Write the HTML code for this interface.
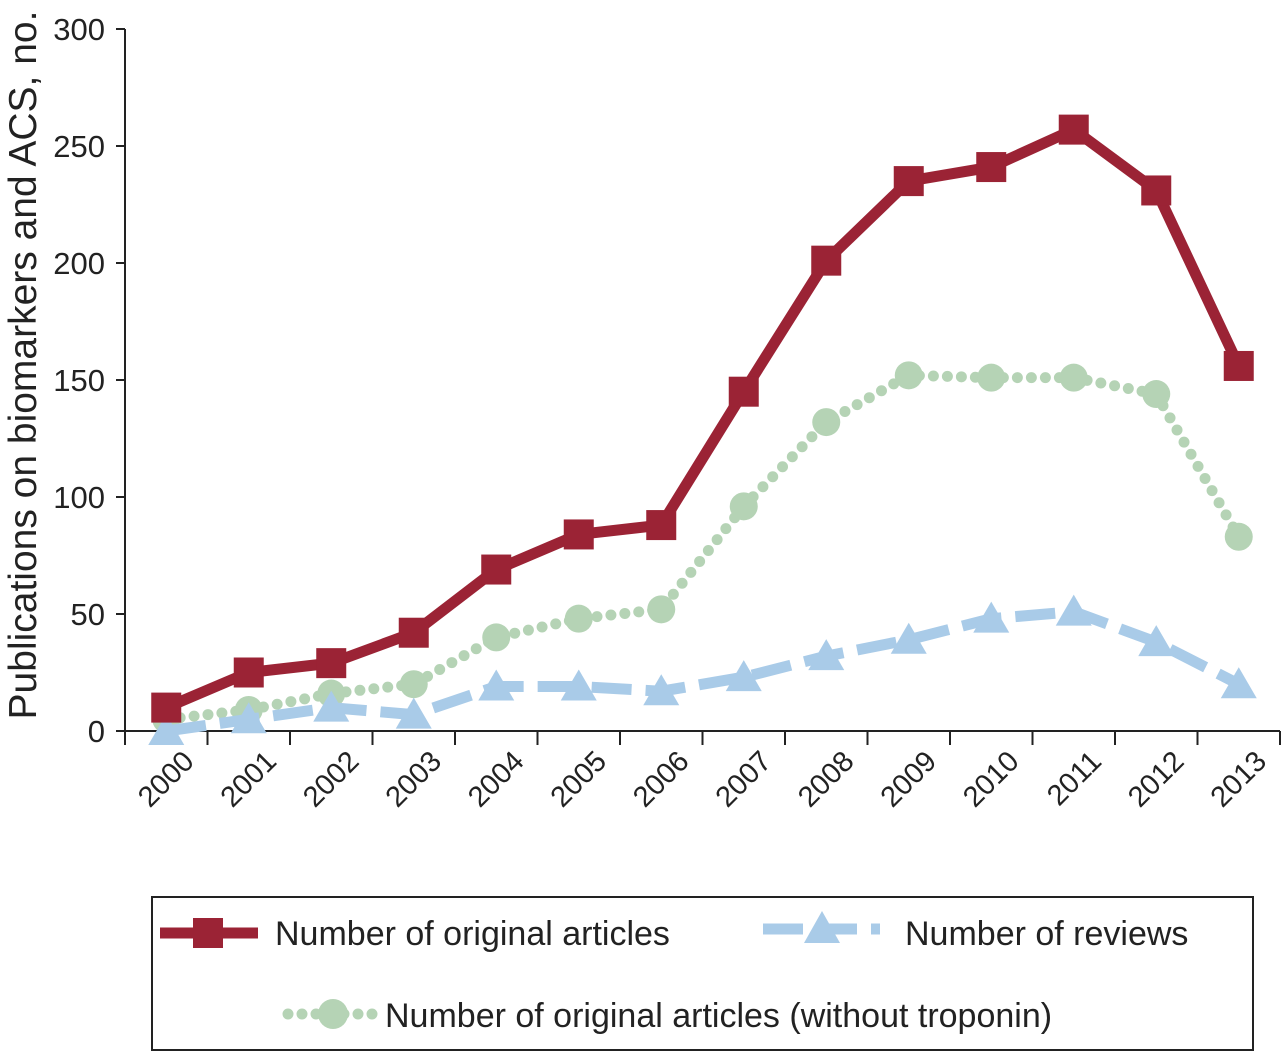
<!DOCTYPE html>
<html><head><meta charset="utf-8"><style>
html,body{margin:0;padding:0;background:#fff;}
svg text{font-family:"Liberation Sans",Arial,sans-serif;fill:#222;}
</style></head><body>
<svg width="1282" height="1054" viewBox="0 0 1282 1054">
<g id="axes"></g><g id="series"></g>
<g>
<rect x="152" y="897" width="1101" height="153" fill="none" stroke="#222" stroke-width="2"/>
<g>
<line x1="160" y1="933" x2="258" y2="933" stroke="#9b2335" stroke-width="11"/>
<rect x="193" y="918" width="30" height="30" fill="#9b2335"/>
<text x="275" y="945" font-size="34">Number of original articles</text></g>
<g>
<line x1="763" y1="929" x2="880" y2="929" stroke="#a9cbe8" stroke-width="11" stroke-dasharray="40,14"/>
<polygon points="822,911 840,943 804,943" fill="#a9cbe8"/>
<text x="905" y="945" font-size="34">Number of reviews</text></g>
<g>
<line x1="288" y1="1014" x2="378" y2="1014" stroke="#b5d3b5" stroke-width="11" stroke-linecap="round" stroke-dasharray="0,14"/>
<circle cx="333" cy="1014" r="15" fill="#b5d3b5"/>
<text x="385" y="1027" font-size="34">Number of original articles (without troponin)</text></g>
</g>
</svg>
<script>
const years=["2000","2001","2002","2003","2004","2005","2006","2007","2008","2009","2010","2011","2012","2013"];
const original=[10,25,29,42,69,84,88,145,201,235,241,257,231,156];
const withoutTroponin=[5,9,16,20,40,48,52,96,132,152,151,151,144,83];
const reviews=[0,5,10,7,19,19,17,23,32,39,48,51,38,20];
const yTicks=[0,50,100,150,200,250,300];
const NS="http://www.w3.org/2000/svg";
const x0=125,x1=1280,y0=731,y1=29;
const step=(x1-x0)/years.length;
const xs=i=>x0+step*(i+0.5);
const ys=v=>y0-(v/300)*(y0-y1);
function mk(p,t,a){const e=document.createElementNS(NS,t);for(const k in a)e.setAttribute(k,a[k]);p.appendChild(e);return e;}
const ax=document.getElementById('axes');
let e=mk(ax,'line',{x1:x0,y1:y1,x2:x0,y2:y0,stroke:'#222','stroke-width':2});


e=mk(ax,'line',{x1:x0,y1:y0,x2:x1,y2:y0,stroke:'#222','stroke-width':2});


yTicks.forEach(v=>{
 mk(ax,'line',{x1:x0-9,y1:ys(v),x2:x0,y2:ys(v),stroke:'#222','stroke-width':2});
 const t=mk(ax,'text',{x:x0-20,y:ys(v)+11,'font-size':31,'text-anchor':'end'});t.textContent=v;
 
 
});
for(let i=0;i<=years.length;i++){mk(ax,'line',{x1:x0+step*i,y1:y0,x2:x0+step*i,y2:y0+14,stroke:'#222','stroke-width':2});}
years.forEach((y,i)=>{
 const cx=x0+step*(i+1)-12,cy=y0+32;
 const t=mk(ax,'text',{x:cx,y:cy,'font-size':29,'text-anchor':'end',transform:`rotate(-45 ${cx} ${cy})`});t.textContent=y;
 
 
});
const tt=mk(ax,'text',{x:36,y:365,'font-size':39,'text-anchor':'middle',transform:'rotate(-90 36 365)'});
tt.textContent='Publications on biomarkers and ACS, no.';


const se=document.getElementById('series');
const pts=a=>a.map((v,i)=>xs(i)+','+ys(v)).join(' ');
let g=mk(se,'g',{});


mk(g,'polyline',{points:pts(withoutTroponin),fill:'none',stroke:'#b5d3b5','stroke-width':11,'stroke-linecap':'round','stroke-dasharray':'0,14'});
withoutTroponin.forEach((v,i)=>{const c=mk(g,'circle',{cx:xs(i),cy:ys(v),r:14,fill:'#b5d3b5'});
 
 });
g=mk(se,'g',{});


mk(g,'polyline',{points:pts(reviews),fill:'none',stroke:'#a9cbe8','stroke-width':11,'stroke-dasharray':'40,14'});
reviews.forEach((v,i)=>{const c=mk(g,'polygon',{points:`${xs(i)},${ys(v)-17} ${xs(i)+18},${ys(v)+14} ${xs(i)-18},${ys(v)+14}`,fill:'#a9cbe8'});
 
 });
g=mk(se,'g',{});


mk(g,'polyline',{points:pts(original),fill:'none',stroke:'#9b2335','stroke-width':11,'stroke-linejoin':'round'});
original.forEach((v,i)=>{const c=mk(g,'rect',{x:xs(i)-15,y:ys(v)-15,width:30,height:30,fill:'#9b2335'});
 
 });
</script>
</body></html>
